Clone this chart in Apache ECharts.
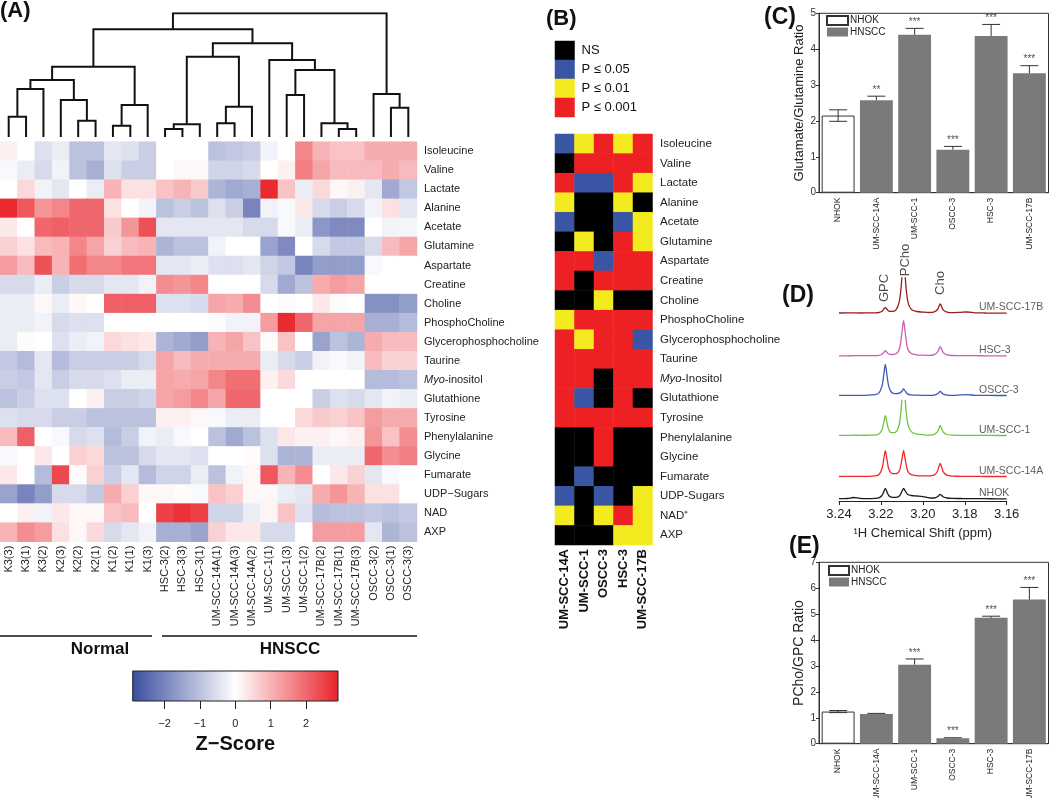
<!DOCTYPE html>
<html><head><meta charset="utf-8">
<script src="https://cdn.jsdelivr.net/npm/echarts@6/dist/echarts.min.js"></script>
<style>html,body{margin:0;padding:0;background:#fff}#c{width:1050px;height:798px}</style>
</head><body><div id="c"></div>
<script>
// ---------------- DATA ----------------
const heatmapColumns = ['K3(3)','K3(1)','K3(2)','K2(3)','K2(2)','K2(1)','K1(2)','K1(1)','K1(3)',
  'HSC-3(2)','HSC-3(3)','HSC-3(1)','UM-SCC-14A(1)','UM-SCC-14A(3)','UM-SCC-14A(2)',
  'UM-SCC-1(1)','UM-SCC-1(3)','UM-SCC-1(2)','UM-SCC-17B(2)','UM-SCC-17B(1)','UM-SCC-17B(3)',
  'OSCC-3(2)','OSCC-3(1)','OSCC-3(3)'];
const metabolites = ['Isoleucine','Valine','Lactate','Alanine','Acetate','Glutamine','Aspartate','Creatine',
  'Choline','PhosphoCholine','Glycerophosphocholine','Taurine','Myo-inositol','Glutathione','Tyrosine',
  'Phenylalanine','Glycine','Fumarate','UDP\u2212Sugars','NAD','AXP'];
const zScores = [
  [0.2,0,-0.5,-0.3,-1.0,-1.0,-0.4,-0.5,-0.8,0,0,0,-1.0,-0.9,-0.8,-0.2,0,1.6,1.0,0.8,0.8,1.1,1.1,1.1],
  [-0.1,-0.3,-0.6,-0.2,-1.0,-1.3,-0.5,-0.8,-0.8,0,0.1,0.1,-0.7,-0.7,-0.6,0,0.2,1.7,1.2,0.9,0.9,0.9,1.1,0.9],
  [0,0.5,-0.2,-0.4,0,-0.3,1.0,0.4,0.4,0.8,1.0,0.7,-1.2,-1.4,-1.3,2.8,0.8,-0.3,0.5,0.1,0.2,-0.4,-1.4,-0.9],
  [2.8,2.2,1.4,1.6,2.0,2.0,0.4,0,-0.2,-1.0,-0.8,-1.0,-0.5,-0.8,-2.0,-0.2,-0.1,0.3,-0.6,-0.8,-0.6,-0.2,0.4,-0.4],
  [0.3,0,2.0,2.1,2.0,2.0,0.7,1.4,2.3,-0.4,-0.4,-0.4,-0.4,-0.4,-0.6,-0.6,-0.1,-0.3,-1.7,-1.9,-1.9,0,-0.2,-0.15],
  [0.6,0.4,0.9,1.0,1.6,1.2,0.6,0.9,1.0,-1.2,-1.0,-1.0,-0.2,0,0,-1.5,-1.9,0,-0.6,-0.9,-0.9,-0.6,0.9,1.2],
  [1.3,0.9,2.3,1.0,1.9,1.6,1.6,1.8,1.8,-0.4,-0.4,-0.3,-0.5,-0.5,-0.4,-0.7,-0.9,-2.0,-1.6,-1.6,-1.6,-0.1,0,0],
  [-0.6,-0.6,-0.3,-0.8,-0.6,-0.6,-0.4,-0.4,-0.2,1.5,1.4,1.6,0,0,0,-0.6,-1.4,-1.0,1.1,1.3,1.2,0,0,0],
  [-0.3,-0.3,0.1,-0.3,0.1,0,2.1,2.1,2.1,-0.5,-0.5,-0.6,1.2,1.1,1.5,0,-0.05,0,0.3,-0.05,0,-1.8,-1.8,-1.6],
  [-0.3,-0.3,-0.2,-0.6,-0.5,-0.5,0,0,0,0,0,0,-0.05,-0.2,-0.2,1.3,2.8,2.0,1.2,1.2,1.2,-1.3,-1.3,-1.1],
  [-0.3,-0.05,0,-0.5,-0.3,-0.2,0.5,0.4,0.3,-1.2,-1.4,-1.6,1.0,1.2,0.8,0.05,0.8,0,-1.5,-1.0,-1.2,1.1,0.9,0.9],
  [-0.9,-1.1,-0.4,-1.1,-0.8,-0.8,-0.8,-0.8,-0.6,1.2,0.9,1.1,1.1,1.1,1.1,-0.3,-0.6,-0.8,-0.2,-0.1,-0.2,0.9,0.6,0.6],
  [-0.8,-0.9,-0.4,-0.8,-0.6,-0.6,-0.5,-0.3,-0.3,1.2,1.1,1.2,1.6,1.9,1.9,0.2,0.5,0,0,0,0,-1.1,-1.1,-1.0],
  [-1.0,-0.8,-0.5,-0.5,0,0.2,-0.8,-0.8,-0.7,1.2,1.3,1.6,1.2,2.0,2.0,0,0,0,-0.8,-0.5,-0.6,-0.4,-0.2,-0.3],
  [-0.5,-0.6,-0.6,-0.8,-0.8,-1.0,-1.0,-1.0,-1.0,0.2,0.2,0.1,-0.1,-0.3,-0.3,0,0,0.5,0.7,0.6,0.8,1.3,1.1,1.1],
  [0.9,2.1,0,-0.1,-0.6,-0.5,-1.1,-0.8,-0.2,-0.3,-0.1,0,-1.0,-1.4,-1.0,-0.5,0.3,0.2,0.2,0.1,0.2,1.4,0.8,1.5],
  [-0.1,0,0.3,0,0.6,0.5,-1.0,-1.0,-0.6,-0.4,-0.4,-0.5,0,0,0.05,-0.5,-1.2,-1.2,-0.3,-0.3,-0.3,2.0,1.5,1.7],
  [0.3,0,-1.1,2.4,0.05,0.6,-0.8,-0.4,-1.1,-0.7,-0.7,-0.3,-1.0,-0.2,0.1,2.2,1.0,1.5,0,0.3,0.6,-0.4,-0.1,0],
  [-1.5,-2.0,-1.6,-0.6,-0.6,-0.9,1.1,0.6,0.1,0.1,0.05,-0.1,0.8,0.6,0.1,0.1,-0.3,-0.4,1.1,1.4,1.0,0.4,0.4,0],
  [0,0.2,-0.2,0.3,0.1,0.1,0.8,0.9,0,2.5,2.7,2.5,-0.7,-0.7,-0.3,0.15,0.8,-0.5,-1.1,-1.0,-1.0,-0.9,-1.0,-0.9],
  [1.0,1.5,1.3,0.4,0.1,0.5,-0.6,-0.4,-0.2,-1.3,-1.3,-1.5,0.6,0.3,0.3,-0.6,-0.6,0,1.3,1.3,1.3,-0.4,-1.2,-1.0]
];
const zScoreRange = [-2.9, 2.9];
const zScoreTicks = [-2, -1, 0, 1, 2];
// hierarchical clustering of the columns: [child A, child B, merge height]; ids >= 24 are earlier merges
const linkage = [
  [0,1,20.3],[24,2,48],[4,5,16.3],[3,26,37],[25,27,57],[6,7,11.3],[29,8,32],[28,30,70.3],
  [9,10,8],[32,11,12.7],[12,13,13.7],[34,14,30.3],[33,35,80.3],[16,17,42],[19,20,8],[18,38,13.7],
  [37,39,67],[15,40,77],[36,41,93.7],[31,42,107.7],[22,23,29.3],[21,44,43],[43,45,123.7]
];
const cellLines = ['UM-SCC-14A','UM-SCC-1','OSCC-3','HSC-3','UM-SCC-17B'];
const sigMetabolites = ['Isoleucine','Valine','Lactate','Alanine','Acetate','Glutamine','Aspartate','Creatine',
  'Choline','PhosphoCholine','Glycerophosphocholine','Taurine','Myo-Inositol','Glutathione','Tyrosine',
  'Phenylalanine','Glycine','Fumarate','UDP-Sugars','NAD\u207A','AXP'];
// 0 = NS, 1 = P<=0.05, 2 = P<=0.01, 3 = P<=0.001
const sigLevels = [
  [1,2,3,2,3],[0,3,3,3,3],[3,1,1,3,2],[2,0,0,2,0],[1,0,0,1,2],[0,2,0,3,2],[3,3,1,3,3],
  [3,0,3,3,3],[0,0,2,0,0],[2,3,3,3,3],[3,2,3,3,1],[3,3,3,3,3],[3,3,0,3,3],[3,1,0,3,0],
  [3,3,3,3,3],[0,0,3,0,0],[0,0,3,0,0],[0,1,0,0,0],[1,0,1,0,2],[2,0,2,3,2],[0,0,0,2,2]
];
const sigLegendLabels = ['NS','P \u2264 0.05','P \u2264 0.01','P \u2264 0.001'];
const barCategories = ['NHOK','UM-SCC-14A','UM-SCC-1','OSCC-3','HSC-3','UM-SCC-17B'];
const gluGlnRatio = [2.15, 2.58, 4.40, 1.20, 4.37, 3.33];
const gluGlnError = [0.16, 0.11, 0.18, 0.09, 0.32, 0.21];
const gluGlnStars = ['', '**', '***', '***', '***', '***'];
const pchoGpcRatio = [1.24, 1.15, 3.05, 0.21, 4.86, 5.56];
const pchoGpcError = [0.04, 0.02, 0.22, 0.02, 0.06, 0.47];
const pchoGpcStars = ['', '', '***', '***', '***', '***'];
const shiftPpm = [3.240,3.236,3.233,3.230,3.226,3.223,3.221,3.2195,3.2187,3.2179,3.2171,3.2163,3.215,3.213,
  3.2112,3.2100,3.2092,3.2084,3.2072,3.2055,3.203,3.200,3.197,3.1945,3.193,3.1924,3.1917,3.191,3.1902,
  3.1885,3.186,3.182,3.179,3.175,3.170,3.165,3.160];
const spectrumNames = ['NHOK','UM-SCC-14A','UM-SCC-1','OSCC-3','HSC-3','UM-SCC-17B'];
const intensityNHOK = [0.3,0.5,1.5,0.6,0.4,0.6,1.2,3.5,7,10.7,7,3.5,1.8,1.6,3,7.5,10.7,8,4.5,3.5,3,2.4,1.2,1,2.2,3.5,4.7,3.5,2,1,0.6,0.5,0.4,0.3,0.3,0.2,0.2];
const intensity14A = [0.2,0.3,0.4,0.3,0.4,0.8,2,8,17,26,17,8,3.5,3,6,17,26,17,5.5,2,1,0.8,0.8,1.8,5.5,9.5,13.3,9.5,4.5,1.5,0.6,0.4,0.3,0.3,0.2,0.2,0.2];
const intensity1 = [0.3,0.3,0.5,0.4,0.5,0.6,1.6,6,13,20,13,6,3,3.5,12,36,null,36,12,4,1.5,1,0.6,1.3,4,7,10,7,3.5,1.2,0.5,0.4,0.3,0.3,0.3,0.2,0.2];
const intensityOSCC3 = [0.3,0.3,0.4,0.3,0.5,1,2.5,9.5,20,31.3,20,9.5,3.5,2,2.5,4.5,6.7,4.5,1.6,0.8,0.5,0.4,0.4,0.6,1.8,3,4.3,3,1.5,0.6,0.4,0.8,1,0.4,0.3,0.2,0.2];
const intensityHSC3 = [0.2,0.2,0.3,0.3,0.3,0.4,0.6,1.8,3.5,5.3,3.5,2,1.5,2,7,23,35.3,23,7,2.5,1.2,0.8,0.6,1.4,3.8,6.5,9.3,6.5,3.2,1.1,0.5,0.4,0.3,0.3,0.2,0.2,0.2];
const intensity17B = [0.3,0.4,0.4,0.3,0.4,0.5,0.8,2,4,5.7,4,2.2,2,3,12,36,null,36,12,4,1.8,1.2,0.8,1.5,3.8,6.5,9.3,6.5,3.2,1.2,0.6,1,1.3,0.5,0.3,0.2,0.2];
const peakLabels = ['GPC', 'PCho', 'Cho'];
const peakLabelShift = [3.2185, 3.2082, 3.1918];

// ---------------- LAYOUT / STYLE ----------------
const FONT = 'Liberation Sans, Arial, sans-serif';
const heatColors = ['#3a4d9f', '#ffffff', '#e8232a'];
const sigColors = ['#000000', '#3a55a4', '#f3ea1f', '#ed2024'];
const spectrumColors = ['#1a1a1a', '#ee2a2a', '#6cc544', '#3c5bb5', '#c95fb0', '#9b1c1c'];
const spectrumOffsets = [2, 24.3, 65.3, 105.3, 145, 187.7];
const peakLabelY = [213, 241, 218];
const spectrumLabelShift = 3.1732;

// ---------------- BUILD ----------------
const nLeaf = heatmapColumns.length;
const nodeX = [], nodeH = [];
for (let i = 0; i < nLeaf; i++) { nodeX[i] = i + 0.5; nodeH[i] = 0; }
const dendroLines = linkage.map(([a, b, h], k) => {
  const id = nLeaf + k;
  nodeX[id] = (nodeX[a] + nodeX[b]) / 2; nodeH[id] = h;
  return { coords: [[nodeX[a], nodeH[a]], [nodeX[a], h], [nodeX[b], h], [nodeX[b], nodeH[b]]] };
});
const heatData = [];
zScores.forEach((row, r) => row.forEach((v, c) => heatData.push([c, r, v])));
const sigData = [];
sigLevels.forEach((row, r) => row.forEach((v, c) => sigData.push([c, r, v])));
const sigKeyData = sigLegendLabels.map((l, i) => [0, i, i]);
const intensities = [intensityNHOK, intensity14A, intensity1, intensityOSCC3, intensityHSC3, intensity17B];

const italicMyo = v => v.indexOf('Myo') === 0 ? '{i|Myo}' + v.slice(3) : v;
const minus = v => (v < 0 ? '\u2212' + Math.abs(v) : String(v));

function barSeries(xi, ratio, err, stars) {
  const nh = ratio.map((v, i) => barCategories[i] === 'NHOK' ? v : '-');
  const hn = ratio.map((v, i) => barCategories[i] === 'NHOK' ? '-' : v);
  return [
    { type: 'bar', name: 'NHOK', xAxisIndex: xi, yAxisIndex: xi, stack: 's' + xi, data: nh, barWidth: '86%',
      itemStyle: { color: '#ffffff', borderColor: '#333', borderWidth: 1 } },
    { type: 'bar', name: 'HNSCC', xAxisIndex: xi, yAxisIndex: xi, stack: 's' + xi, data: hn, barWidth: '86%',
      itemStyle: { color: '#7a7a7a' } },
    { type: 'custom', xAxisIndex: xi, yAxisIndex: xi, z: 5,
      data: ratio.map((v, i) => [i, v, err[i]]),
      renderItem: (params, api) => {
        const i = api.value(0), v = api.value(1), e = api.value(2);
        const both = barCategories[i] === 'NHOK';
        const top = api.coord([i, v + e]);
        const low = api.coord([i, both ? v - e : v]);
        const st = { stroke: '#333', lineWidth: 1 };
        const kids = [
          { type: 'line', shape: { x1: top[0], y1: top[1], x2: low[0], y2: low[1] }, style: st },
          { type: 'line', shape: { x1: top[0] - 9, y1: top[1], x2: top[0] + 9, y2: top[1] }, style: st }
        ];
        if (both) kids.push({ type: 'line', shape: { x1: low[0] - 9, y1: low[1], x2: low[0] + 9, y2: low[1] }, style: st });
        return { type: 'group', children: kids };
      } },
    { type: 'scatter', xAxisIndex: xi, yAxisIndex: xi, symbolSize: 0, silent: true,
      data: ratio.map((v, i) => [i, v + err[i]]),
      label: { show: true, position: 'top', distance: 1, formatter: p => stars[p.dataIndex],
        fontSize: 10, color: '#222', fontFamily: FONT } }
  ];
}

const series = [
  { type: 'lines', coordinateSystem: 'cartesian2d', xAxisIndex: 0, yAxisIndex: 0, polyline: true,
    data: dendroLines, lineStyle: { color: '#111', width: 2, opacity: 1 }, silent: true },
  { type: 'heatmap', xAxisIndex: 1, yAxisIndex: 1, data: heatData },
  { type: 'heatmap', xAxisIndex: 2, yAxisIndex: 2, data: sigData },
  { type: 'heatmap', xAxisIndex: 3, yAxisIndex: 3, data: sigKeyData },
  { type: 'custom', xAxisIndex: 4, yAxisIndex: 4, data: [[zScoreRange[0], 0, zScoreRange[1], 1]],
    encode: { x: [0, 2], y: [1, 3] },
    renderItem: (params, api) => {
      const p1 = api.coord([api.value(0), api.value(1)]);
      const p2 = api.coord([api.value(2), api.value(3)]);
      return { type: 'rect', shape: { x: p1[0], y: p2[1], width: p2[0] - p1[0], height: p1[1] - p2[1] },
        style: { fill: new echarts.graphic.LinearGradient(0, 0, 1, 0,
          heatColors.map((c, i) => ({ offset: i / (heatColors.length - 1), color: c }))),
          stroke: '#222', lineWidth: 1 } };
    } },
  ...barSeries(5, gluGlnRatio, gluGlnError, gluGlnStars),
  ...spectrumNames.map((n, s) => ({
    type: 'line', name: 'spectrum ' + n, xAxisIndex: 6, yAxisIndex: 6, showSymbol: false, smooth: 0.3,
    connectNulls: false, silent: true,
    data: shiftPpm.map((p, k) => [p, intensities[s][k] == null ? '-' : spectrumOffsets[s] + intensities[s][k]]),
    lineStyle: { color: spectrumColors[s], width: 1.3 }, itemStyle: { color: spectrumColors[s] }
  })),
  { type: 'scatter', xAxisIndex: 6, yAxisIndex: 6, symbolSize: 0, silent: true,
    data: spectrumNames.map((n, s) => [spectrumLabelShift, spectrumOffsets[s]]),
    label: { show: true, position: 'right', distance: 0, offset: [0, -6], formatter: p => spectrumNames[p.dataIndex],
      fontSize: 10.5, color: '#333', fontFamily: FONT } },
  { type: 'scatter', xAxisIndex: 6, yAxisIndex: 6, symbolSize: 0, silent: true,
    data: peakLabels.map((n, i) => [peakLabelShift[i], peakLabelY[i]]),
    label: { show: true, position: 'inside', rotate: 90, formatter: p => peakLabels[p.dataIndex],
      fontSize: 13, color: '#222', fontFamily: FONT } },
  ...barSeries(7, pchoGpcRatio, pchoGpcError, pchoGpcStars)
];

const hideAxis = { axisLine: { show: false }, axisTick: { show: false }, splitLine: { show: false } };
const barX = gi => ({ gridIndex: gi, type: 'category', data: barCategories,
  axisLine: { lineStyle: { color: '#333', width: 1 } }, axisTick: { show: false },
  axisLabel: { rotate: 90, interval: 0, fontSize: 8.5, color: '#222', margin: 5, fontFamily: FONT } });
const barY = (gi, max, name, fs, gap) => ({ gridIndex: gi, type: 'value', min: 0, max: max, interval: 1,
  splitLine: { show: false }, axisLine: { show: true, lineStyle: { color: '#333' } },
  axisTick: { show: true, length: 3, lineStyle: { color: '#333' } },
  axisLabel: { fontSize: 10, color: '#333', margin: 3, fontFamily: FONT },
  name: name, nameLocation: 'middle', nameGap: gap,
  nameTextStyle: { fontSize: fs, color: '#222', fontFamily: FONT } });

const gridBase = { containLabel: false, outerBoundsMode: 'none' };
const option = {
  animation: false,
  backgroundColor: '#fff',
  textStyle: { fontFamily: FONT },
  grid: [
    { ...gridBase, left: 0, top: 13.3, width: 417, height: 123.7 },
    { ...gridBase, left: 0, top: 141.7, width: 417, height: 400 },
    { ...gridBase, left: 555, top: 134, width: 97.5, height: 411 },
    { ...gridBase, left: 555, top: 41, width: 19.5, height: 76 },
    { ...gridBase, left: 132.7, top: 671, width: 205.3, height: 30 },
    { ...gridBase, left: 819, top: 13.3, width: 229.5, height: 179.4, show: true, borderColor: '#333', borderWidth: 1 },
    { ...gridBase, left: 839, top: 240, width: 167.7, height: 261 },
    { ...gridBase, left: 819, top: 562.3, width: 229.5, height: 181.4, show: true, borderColor: '#333', borderWidth: 1 }
  ],
  xAxis: [
    { gridIndex: 0, type: 'value', min: 0, max: nLeaf, show: false },
    { gridIndex: 1, type: 'category', data: heatmapColumns, ...hideAxis,
      axisLabel: { rotate: 90, interval: 0, fontSize: 11, color: '#222', margin: 4, fontFamily: FONT } },
    { gridIndex: 2, type: 'category', data: cellLines, ...hideAxis,
      axisLabel: { rotate: 90, interval: 0, fontSize: 13, fontWeight: 'bold', color: '#111', margin: 4, fontFamily: FONT } },
    { gridIndex: 3, type: 'category', data: ['key'], show: false },
    { gridIndex: 4, type: 'value', min: zScoreRange[0], max: zScoreRange[1],
      axisLine: { show: false }, splitLine: { show: false },
      axisTick: { show: true, length: 8, customValues: zScoreTicks, lineStyle: { color: '#222' } },
      axisLabel: { customValues: zScoreTicks, formatter: minus, fontSize: 11, color: '#222', margin: 17, fontFamily: FONT },
      name: 'Z\u2212Score', nameLocation: 'middle', nameGap: 33,
      nameTextStyle: { fontSize: 20, fontWeight: 'bold', color: '#111', fontFamily: FONT } },
    barX(5),
    { gridIndex: 6, type: 'value', min: 3.16, max: 3.24, interval: 0.02, inverse: true,
      splitLine: { show: false }, axisLine: { lineStyle: { color: '#222' } },
      axisTick: { length: 4, lineStyle: { color: '#222' } },
      axisLabel: { formatter: v => v.toFixed(2), fontSize: 13, color: '#222', margin: 7, fontFamily: FONT },
      name: '\u00B9H Chemical Shift (ppm)', nameLocation: 'middle', nameGap: 26,
      nameTextStyle: { fontSize: 13, color: '#222', fontFamily: FONT } },
    barX(7)
  ],
  yAxis: [
    { gridIndex: 0, type: 'value', min: 0, max: 123.7, show: false },
    { gridIndex: 1, type: 'category', data: metabolites, inverse: true, position: 'right', ...hideAxis,
      axisLabel: { interval: 0, fontSize: 11, color: '#222', margin: 7, fontFamily: FONT, formatter: italicMyo,
        rich: { i: { fontStyle: 'italic', fontSize: 11, color: '#222', fontFamily: FONT } } } },
    { gridIndex: 2, type: 'category', data: sigMetabolites, inverse: true, position: 'right', ...hideAxis,
      axisLabel: { interval: 0, fontSize: 11.5, color: '#222', margin: 7.5, fontFamily: FONT, formatter: italicMyo,
        rich: { i: { fontStyle: 'italic', fontSize: 11.5, color: '#222', fontFamily: FONT } } } },
    { gridIndex: 3, type: 'category', data: sigLegendLabels, inverse: true, position: 'right', ...hideAxis,
      axisLabel: { interval: 0, fontSize: 13, color: '#111', margin: 7, fontFamily: FONT } },
    { gridIndex: 4, type: 'value', min: 0, max: 1, show: false },
    barY(5, 5, 'Glutamate/Glutamine Ratio', 13, 13),
    { gridIndex: 6, type: 'value', min: 0, max: 261, show: false },
    barY(7, 7, 'PCho/GPC Ratio', 14, 12)
  ],
  visualMap: [
    { type: 'continuous', show: false, seriesIndex: 1, min: zScoreRange[0], max: zScoreRange[1],
      inRange: { color: heatColors } },
    { type: 'piecewise', show: false, seriesIndex: [2, 3],
      pieces: sigColors.map((c, i) => ({ value: i, color: c })) }
  ],
  legend: [
    { left: 826, top: 15, orient: 'vertical', icon: 'rect', itemWidth: 21, itemHeight: 9, itemGap: 1, padding: 0,
      data: ['NHOK', 'HNSCC'], selectedMode: false,
      textStyle: { fontSize: 10, lineHeight: 10, color: '#222', fontFamily: FONT, padding: [0, 0, 0, -3] } },
    { left: 828, top: 565, orient: 'vertical', icon: 'rect', itemWidth: 20, itemHeight: 9, itemGap: 1, padding: 0,
      data: ['NHOK', 'HNSCC'], selectedMode: false,
      textStyle: { fontSize: 10, lineHeight: 10, color: '#222', fontFamily: FONT, padding: [0, 0, 0, -3] } }
  ],
  graphic: [
    { type: 'text', left: 0, top: 0, style: { text: '(A)', font: 'bold 22px ' + FONT, fill: '#111' } },
    { type: 'text', left: 546, top: 8, style: { text: '(B)', font: 'bold 22px ' + FONT, fill: '#111' } },
    { type: 'text', left: 764, top: 6, style: { text: '(C)', font: 'bold 23px ' + FONT, fill: '#111' } },
    { type: 'text', left: 782, top: 284, style: { text: '(D)', font: 'bold 23px ' + FONT, fill: '#111' } },
    { type: 'text', left: 789, top: 535, style: { text: '(E)', font: 'bold 23px ' + FONT, fill: '#111' } },
    { type: 'line', shape: { x1: 0, y1: 636, x2: 152, y2: 636 }, style: { stroke: '#111', lineWidth: 1.5 } },
    { type: 'line', shape: { x1: 162, y1: 636, x2: 417, y2: 636 }, style: { stroke: '#111', lineWidth: 1.5 } },
    { type: 'text', x: 100, y: 649, style: { text: 'Normal', font: 'bold 17px ' + FONT, fill: '#111',
      textAlign: 'center', textVerticalAlign: 'middle' } },
    { type: 'text', x: 290, y: 649, style: { text: 'HNSCC', font: 'bold 17px ' + FONT, fill: '#111',
      textAlign: 'center', textVerticalAlign: 'middle' } }
  ],
  series: series
};
const chart = echarts.init(document.getElementById('c'), null, { renderer: 'canvas', width: 1050, height: 798 });
chart.setOption(option);
</script>
</body></html>
